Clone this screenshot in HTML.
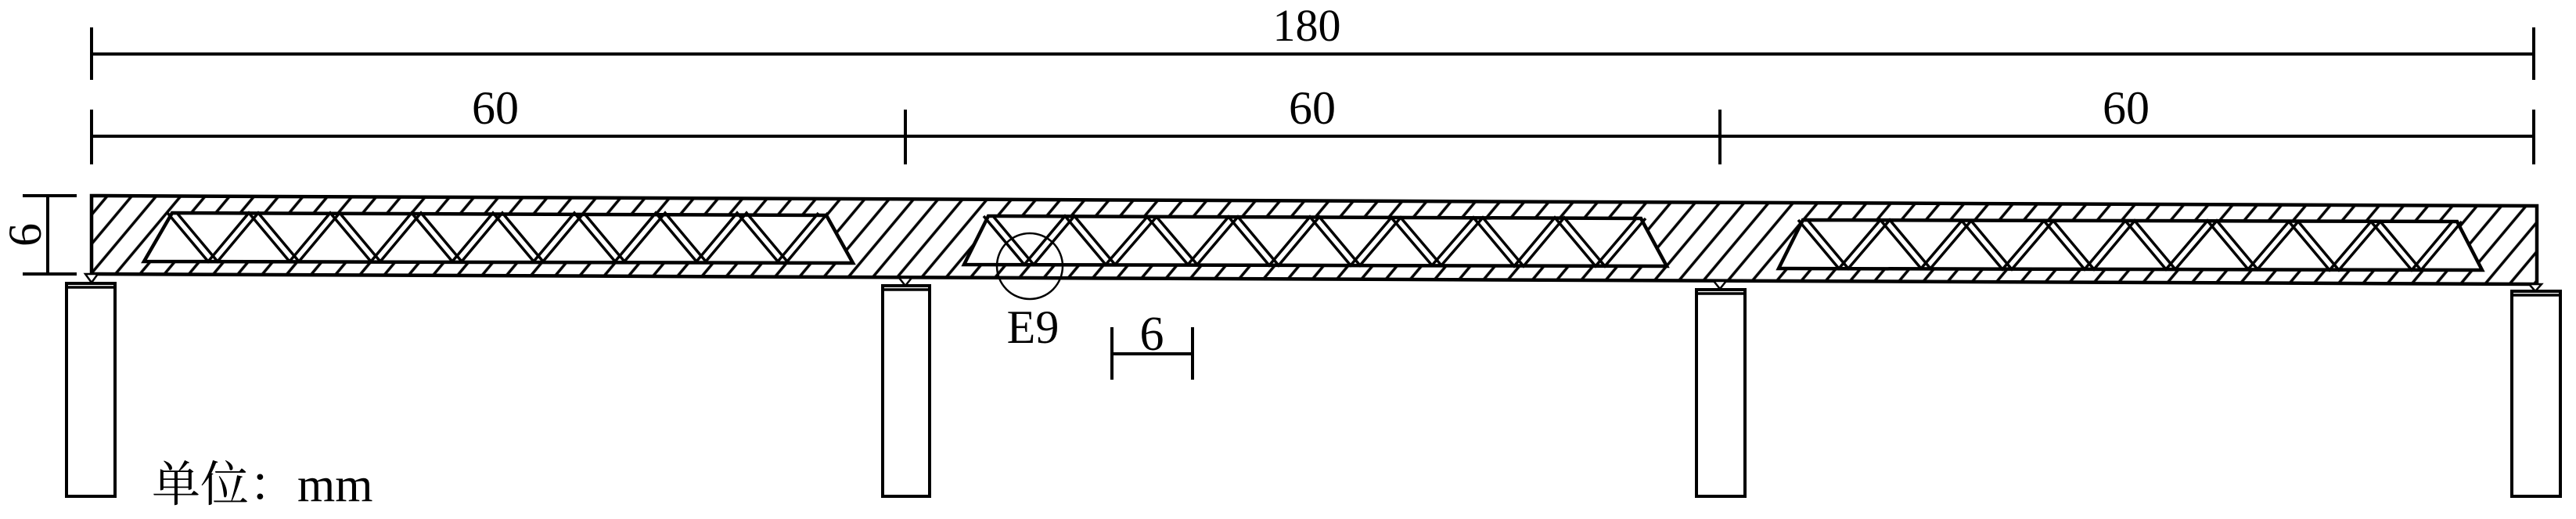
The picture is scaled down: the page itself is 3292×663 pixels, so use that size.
<!DOCTYPE html>
<html><head><meta charset="utf-8"><style>
html,body{margin:0;padding:0;background:#fff;}
svg{display:block;}
text{font-family:"Liberation Serif","Noto Serif CJK SC",serif;fill:#000;}
</style></head><body>
<svg width="3292" height="663" viewBox="0 0 3292 663" xmlns="http://www.w3.org/2000/svg">
<defs>
<pattern id="h" patternUnits="userSpaceOnUse" width="24" height="24" patternTransform="rotate(40)">
<line x1="2" y1="0" x2="2" y2="24" stroke="#000" stroke-width="3.5"/>
</pattern>
</defs>
<g stroke="#000" stroke-width="4" fill="none">
<line x1="117" y1="69" x2="3238" y2="69"/>
<line x1="117" y1="35" x2="117" y2="102"/>
<line x1="3238" y1="35" x2="3238" y2="102"/>
<line x1="117" y1="174" x2="3238" y2="174"/>
<line x1="117" y1="140" x2="117" y2="210"/>
<line x1="1157" y1="140" x2="1157" y2="210"/>
<line x1="2198" y1="140" x2="2198" y2="210"/>
<line x1="3238" y1="140" x2="3238" y2="210"/>
<line x1="61" y1="250" x2="61" y2="350"/>
<line x1="29" y1="250" x2="98" y2="250"/>
<line x1="29" y1="350" x2="98" y2="350"/>
<line x1="1421" y1="418" x2="1421" y2="485"/>
<line x1="1524" y1="418" x2="1524" y2="485"/>
<line x1="1421" y1="452" x2="1524" y2="452"/>
</g>
<polygon points="117,250 3242,263 3242,363 117,350" fill="url(#h)" stroke="#000" stroke-width="4.5"/>
<g fill="#fff" stroke="#000" stroke-width="4.5">
<polygon points="184,334 220,272 1056,275 1090,336"/>
<polygon points="1232,338 1263,276 2097,279 2130,340"/>
<polygon points="2273,343 2304,281 3140,283 3172,345"/>
</g>
<g stroke="#000" stroke-width="3.5" fill="none">
<polyline points="214,272 266,334 318,272 370,334 422,272 474,334 526,272 578,334 630,272 682,334 734,272 786,334 838,272 890,334 942,272 994,334 1046,272"/>
<polyline points="226,272 278,334 330,272 382,334 434,272 486,334 538,272 590,334 642,272 694,334 746,272 798,334 850,272 902,334 954,272 1006,334 1058,272"/>
<polyline points="1257,276 1309,338 1361,276 1413,338 1466,277 1518,338 1570,277 1622,339 1674,277 1726,339 1778,278 1830,339 1883,278 1935,340 1987,278 2039,340 2091,279"/>
<polyline points="1269,276 1321,338 1373,276 1425,338 1478,277 1530,338 1582,277 1634,339 1686,277 1738,339 1790,278 1842,339 1895,278 1947,340 1999,278 2051,340 2103,279"/>
<polyline points="2298,281 2350,343 2403,281 2455,343 2507,282 2559,344 2612,282 2664,344 2716,282 2768,344 2821,282 2873,344 2925,283 2977,345 3030,283 3082,345 3134,283"/>
<polyline points="2310,281 2362,343 2415,281 2467,343 2519,282 2571,344 2624,282 2676,344 2728,282 2780,344 2833,282 2885,344 2937,283 2989,345 3042,283 3094,345 3146,283"/>
</g>
<g fill="#fff" stroke="#000" stroke-width="4">
<rect x="85" y="362" width="62" height="272"/>
<rect x="1128" y="365" width="60" height="269"/>
<rect x="2168" y="370" width="62" height="264"/>
<rect x="3210" y="372" width="62" height="262"/>
</g>
<g stroke="#000" stroke-width="3.5">
<line x1="85" y1="367" x2="147" y2="367"/>
<line x1="1128" y1="370" x2="1188" y2="370"/>
<line x1="2168" y1="375" x2="2230" y2="375"/>
<line x1="3210" y1="377" x2="3272" y2="377"/>
</g>
<g fill="#fff" stroke="#000" stroke-width="2.5">
<polygon points="109,350 125,350 117,361"/>
<polygon points="1149,355 1165,355 1157,365"/>
<polygon points="2190,359 2206,359 2198,369"/>
<polygon points="3232,363 3248,363 3240,372"/>
</g>
<circle cx="1316" cy="340" r="42" fill="none" stroke="#000" stroke-width="2.5"/>
<text x="1670" y="52" font-size="58" text-anchor="middle">180</text>
<text x="633" y="158" font-size="60" text-anchor="middle">60</text>
<text x="1677" y="158" font-size="60" text-anchor="middle">60</text>
<text x="2717" y="158" font-size="60" text-anchor="middle">60</text>
<text x="0" y="0" font-size="60" text-anchor="middle" transform="translate(52,300) rotate(-90)">6</text>
<text x="1320" y="438" font-size="60" text-anchor="middle">E9</text>
<text x="1472" y="447" font-size="62" text-anchor="middle">6</text>
<text x="194" y="640" font-size="62">单位：mm</text>
</svg>
</body></html>
